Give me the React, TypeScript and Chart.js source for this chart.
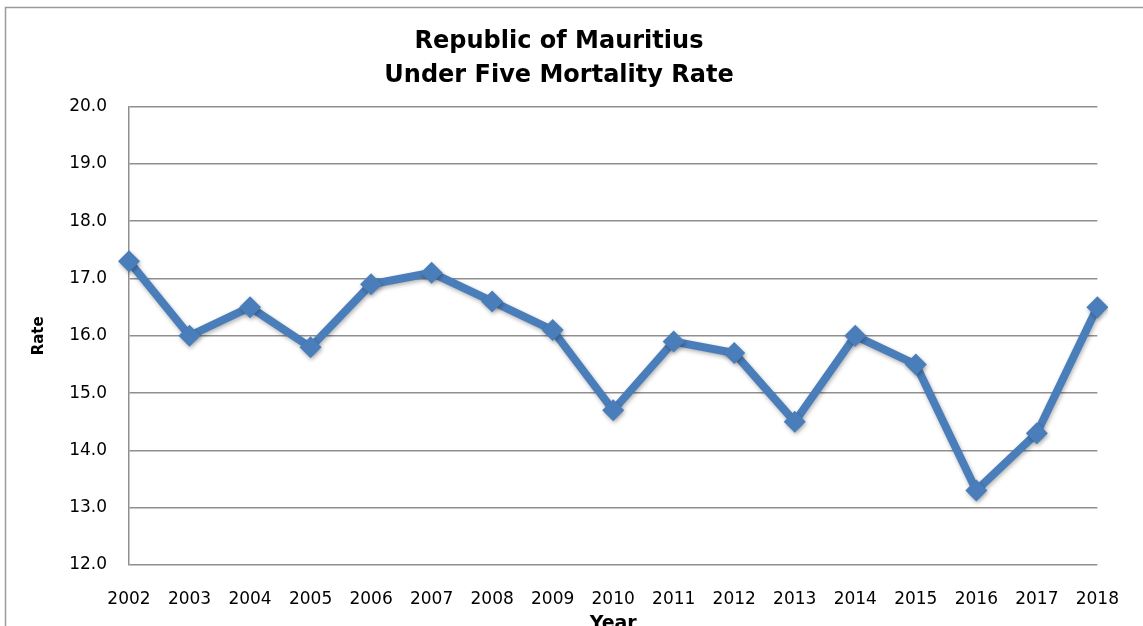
import React, { useEffect, useRef } from "react";
import { Chart, registerables } from "chart.js";

Chart.register(...registerables);

const years = ["2002","2003","2004","2005","2006","2007","2008","2009","2010","2011","2012","2013","2014","2015","2016","2017","2018"];
const rates = [17.3, 16.0, 16.5, 15.8, 16.9, 17.1, 16.6, 16.1, 14.7, 15.9, 15.7, 14.5, 16.0, 15.5, 13.3, 14.3, 16.5];
const titleLines = ["Republic of Mauritius", "Under Five Mortality Rate"];
const yTitle = "Rate";
const xTitle = "Year";

const FONT = "'DejaVu Sans', sans-serif";

const borderPlugin = {
  id: "outerBorder",
  beforeDraw(chart: any) {
    const ctx = chart.ctx;
    ctx.save();
    ctx.fillStyle = "#ffffff";
    ctx.fillRect(0, 0, chart.width, chart.height);
    ctx.strokeStyle = "#9a9a9a";
    ctx.lineWidth = 1.5;
    ctx.strokeRect(5.5, 7.5, chart.width + 20, chart.height + 20);
    ctx.restore();
  },
};

const shadowPlugin = {
  id: "lineShadow",
  beforeDatasetsDraw(chart: any) {
    const ctx = chart.ctx;
    ctx.save();
    ctx.shadowColor = "rgba(0,0,0,0.3)";
    ctx.shadowBlur = 4;
    ctx.shadowOffsetX = 1;
    ctx.shadowOffsetY = 2;
  },
  afterDatasetsDraw(chart: any) {
    chart.ctx.restore();
  },
};

export default function App() {
  const ref = useRef<HTMLCanvasElement | null>(null);

  useEffect(() => {
    if (!ref.current) return;
    const chart = new Chart(ref.current, {
      type: "line",
      data: {
        labels: years,
        datasets: [
          {
            data: rates,
            borderColor: "#4a7ebb",
            backgroundColor: "#4a7ebb",
            borderWidth: 8,
            pointStyle: "rectRot",
            pointRadius: 11,
            pointBorderWidth: 0,
            tension: 0,
          },
        ],
      },
      options: {
        responsive: false,
        animation: false,
        layout: { padding: { left: 20, right: 45, top: 0, bottom: 0 } },
        plugins: {
          legend: { display: false },
          tooltip: { enabled: false },
          title: {
            display: true,
            text: titleLines,
            color: "#000",
            font: { family: FONT, size: 24, weight: "bold", lineHeight: 1.45 },
            padding: { top: 24, bottom: 13 },
          },
        },
        scales: {
          x: {
            offset: false,
            grid: { display: false, drawTicks: false },
            border: { display: false },
            ticks: {
              color: "#000",
              font: { family: FONT, size: 17 },
              padding: 24,
              autoSkip: false,
              maxRotation: 0,
            },
            title: {
              display: true,
              text: xTitle,
              color: "#000",
              font: { family: FONT, size: 19, weight: "bold", lineHeight: 1.2 },
              padding: { top: 0, bottom: 15 },
            },
            afterFit: (scale: any) => {
              scale.height = 85;
            },
          },
          y: {
            min: 12,
            max: 20,
            grid: { color: "#8f8f8f", lineWidth: 1.5, drawTicks: false },
            border: { display: true, color: "#8f8f8f", width: 1.5 },
            ticks: {
              stepSize: 1,
              color: "#000",
              font: { family: FONT, size: 17 },
              padding: 22,
              callback: (v: any) => Number(v).toFixed(1),
            },
            title: {
              display: true,
              text: yTitle,
              color: "#000",
              font: { family: FONT, size: 15, weight: "bold", lineHeight: 1.2 },
              padding: { top: 10, bottom: 0 },
            },
            afterFit: (scale: any) => {
              scale.width = 109;
            },
          },
        },
      },
      plugins: [borderPlugin, shadowPlugin],
    });
    return () => chart.destroy();
  }, []);

  return (
    <div style={{ position: "fixed", left: 0, top: 0, width: 1143, height: 626, overflow: "hidden", background: "#fff" }}>
      <canvas ref={ref} width={1143} height={650} style={{ display: "block", width: 1143, height: 650 }} />
    </div>
  );
}
